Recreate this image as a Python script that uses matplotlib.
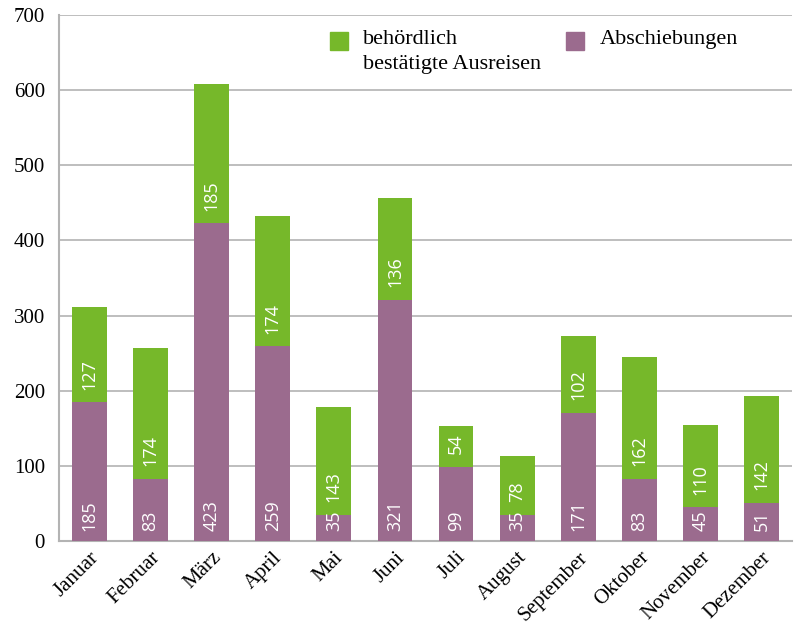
import matplotlib
matplotlib.use("Agg")
import matplotlib.pyplot as plt
from matplotlib.patches import Rectangle
import numpy as np

# ----------------- Data -----------------
months = ["Januar", "Februar", "März", "April", "Mai", "Juni", "Juli",
          "August", "September", "Oktober", "November", "Dezember"]
abschiebungen = [185, 83, 423, 259, 35, 321, 99, 35, 171, 83, 45, 51]
ausreisen = [127, 174, 185, 174, 143, 136, 54, 78, 102, 162, 110, 142]
y_ticks = [0, 100, 200, 300, 400, 500, 600, 700]

GREEN = "#76b82a"
PURPLE = "#9b6b8e"
GRID = "#b3b3b3"
SERIF = ["Liberation Serif", "DejaVu Serif"]
SANS = ["Open Sans", "DejaVu Sans"]

fig = plt.figure(figsize=(7.96, 6.28), dpi=100)
ax = fig.add_axes([0.074, 0.1385, 0.921, 0.8375])

x = np.arange(len(months))
w = 0.57
ax.bar(x, abschiebungen, width=w, color=PURPLE, zorder=3)
ax.bar(x, ausreisen, width=w, bottom=abschiebungen, color=GREEN, zorder=3)

# value labels inside the segments, starting at the segment base
for xi, a, b in zip(x, abschiebungen, ausreisen):
    ax.annotate(str(a), (xi, 0), xytext=(0, 7), textcoords="offset points",
                rotation=90, ha="center", va="bottom", color="white",
                fontsize=13, family=SANS, zorder=4)
    ax.annotate(str(b), (xi, a), xytext=(0, 9), textcoords="offset points",
                rotation=90, ha="center", va="bottom", color="white",
                fontsize=13, family=SANS, zorder=4)

ax.set_xlim(-0.5, len(months) - 0.5)
ax.set_ylim(0, 700)
ax.set_yticks(y_ticks)
ax.set_yticklabels([str(t) for t in y_ticks], family=SERIF, fontsize=15)
ax.set_xticks(x)
ax.set_xticklabels(months, rotation=45, ha="right", rotation_mode="anchor",
                   family=SERIF, fontsize=15)
ax.tick_params(axis="both", length=0)
ax.tick_params(axis="y", pad=10)
ax.tick_params(axis="x", pad=5)

ax.yaxis.grid(True, color=GRID, linewidth=1.2, zorder=0)
for side in ["top", "right"]:
    ax.spines[side].set_visible(False)
for side in ["left", "bottom"]:
    ax.spines[side].set_color(GRID)
    ax.spines[side].set_linewidth(1.5)

# legend drawn by hand so the patch lines up with the first text line
fig.patches.append(Rectangle((330 / 796, 1 - 50 / 628), 18 / 796, 18 / 628,
                             transform=fig.transFigure, color=GREEN))
fig.text(363 / 796, 1 - 30 / 628, "behördlich\nbestätigte Ausreisen",
         family=SERIF, fontsize=16, va="top", ha="left", linespacing=1.4)
fig.patches.append(Rectangle((566 / 796, 1 - 50 / 628), 18 / 796, 18 / 628,
                             transform=fig.transFigure, color=PURPLE))
fig.text(600 / 796, 1 - 30 / 628, "Abschiebungen",
         family=SERIF, fontsize=16, va="top", ha="left")

fig.savefig("out.png", dpi=100)
